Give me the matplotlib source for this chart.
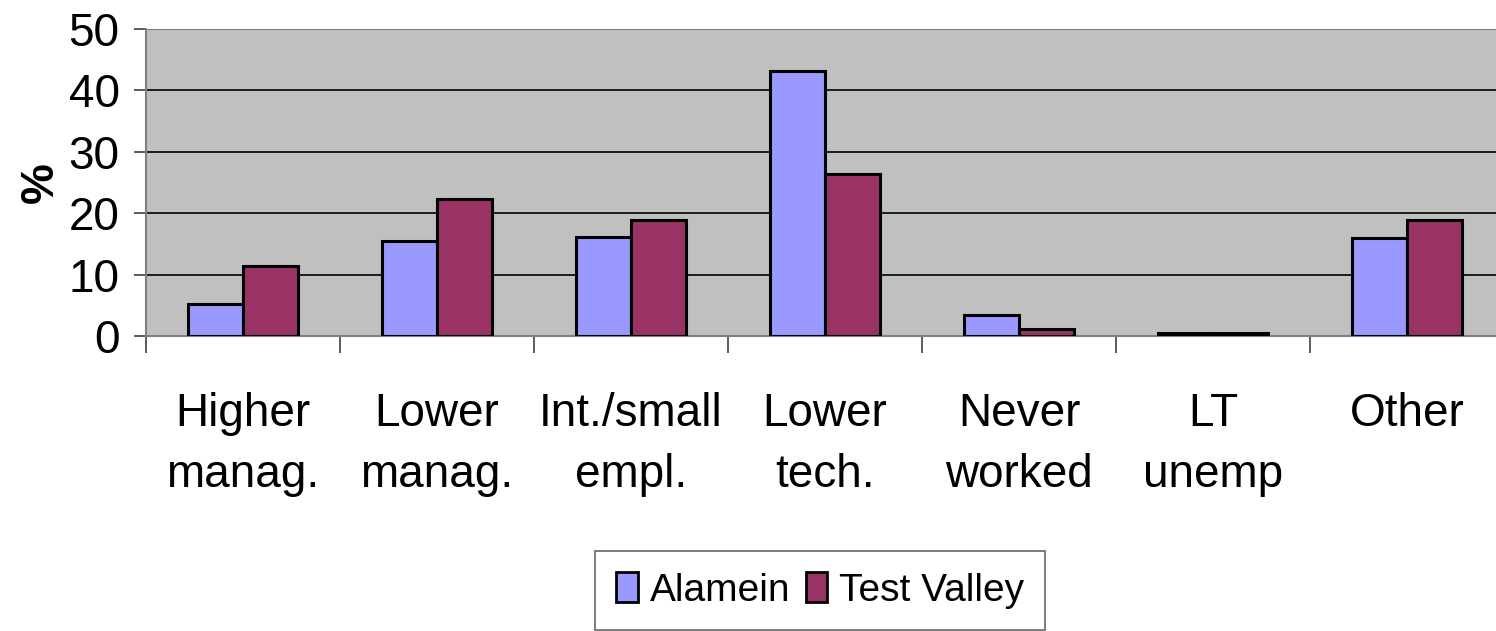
import numpy as np
import matplotlib.pyplot as plt
from matplotlib.patches import Patch

plt.rcParams['font.family'] = ['Liberation Sans', 'DejaVu Sans']

categories = ["Higher\nmanag.", "Lower\nmanag.", "Int./small\nempl.", "Lower\ntech.",
              "Never\nworked", "LT\nunemp", "Other"]
alamein = [5.2, 15.5, 16.1, 43.1, 3.4, 0.5, 16.0]
test_valley = [11.4, 22.3, 18.9, 26.4, 1.1, 0.5, 18.9]

c_alamein = "#9999FF"
c_tv = "#993366"

W, H = 1496, 631
fig = plt.figure(figsize=(W / 100, H / 100), dpi=100)
# plot area runs slightly past the right edge of the picture
ax = fig.add_axes([146 / W, 1 - 336 / H, (1504 - 146) / W, (336 - 29) / H])
ax.set_facecolor("#C0C0C0")

x = np.arange(len(categories))
bw = 0.285
ax.bar(x - bw / 2, alamein, bw, color=c_alamein, edgecolor="black", linewidth=2.2, zorder=3)
ax.bar(x + bw / 2, test_valley, bw, color=c_tv, edgecolor="black", linewidth=2.2, zorder=3)

ax.set_xlim(-0.5, len(categories) - 0.5)
ax.set_ylim(0, 50)
ax.set_yticks([0, 10, 20, 30, 40, 50])
ax.yaxis.grid(True, color="black", linewidth=1.2, zorder=1)
ax.set_axisbelow(True)

for s in ["top", "right"]:
    ax.spines[s].set_visible(False)
ax.spines["left"].set_color("#808080")
ax.spines["left"].set_linewidth(1.5)
ax.spines["bottom"].set_color("#808080")
ax.spines["bottom"].set_linewidth(1.5)
ax.axhline(50, color="#808080", linewidth=1.5, zorder=2)

ax.tick_params(axis="y", labelsize=33, length=9, width=1.2, pad=10, color="#404040")
ax.set_xticks(x, categories)
ax.tick_params(axis="x", which="major", length=0, labelsize=33, pad=40)
ax.set_xticks(np.arange(-0.5, len(categories), 1.0), minor=True)
ax.tick_params(axis="x", which="minor", length=12, width=1.2, color="#404040")
for lab in ax.get_xticklabels():
    lab.set_linespacing(1.5)

ax.set_ylabel("%", fontsize=33, fontweight="bold", labelpad=4)

handles = [Patch(facecolor=c_alamein, edgecolor="black", linewidth=2),
           Patch(facecolor=c_tv, edgecolor="black", linewidth=2)]
leg = fig.legend(handles, ["Alamein", "Test Valley"], loc="upper left",
                 bbox_to_anchor=(595 / W, 1 - 551 / H), ncol=2, fontsize=28,
                 frameon=True, fancybox=False, edgecolor="#404040",
                 handlelength=0.55, handleheight=0.8, handletextpad=0.3,
                 columnspacing=0.4, borderpad=0.55, borderaxespad=0)
leg.get_frame().set_linewidth(1.2)

fig.savefig("out.png", dpi=100)
